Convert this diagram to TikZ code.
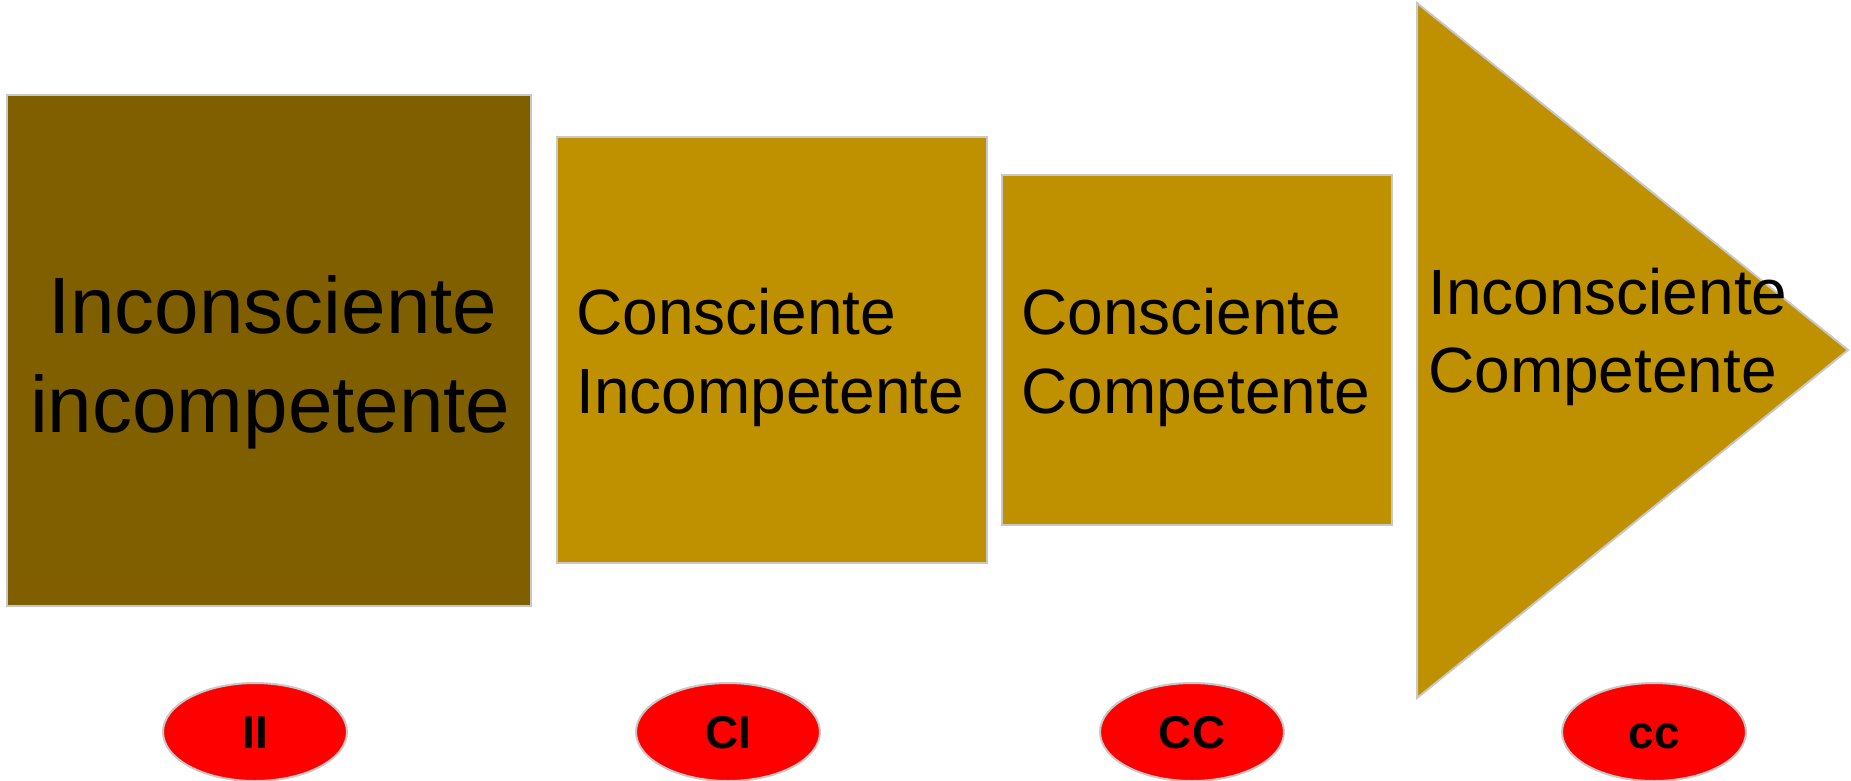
\documentclass[tikz,border=0pt]{standalone}
\usepackage{fontspec}
\setmainfont{Liberation Sans}
\usetikzlibrary{shapes.geometric}
\definecolor{darkgold}{HTML}{7F5F00}
\definecolor{gold}{HTML}{BF9000}
\definecolor{edgegray}{HTML}{C8C8C8}
\definecolor{badge}{HTML}{FF0000}
\tikzset{
  panel/.style={fill=#1, draw=edgegray, line width=2pt},
  bigtext/.style={anchor=base west, inner sep=0pt, font=\fontsize{80}{100}\selectfont},
  steptext/.style={anchor=base west, inner sep=0pt, font=\fontsize{64}{80}\selectfont},
  tag/.style={ellipse, fill=badge, draw=edgegray, line width=2pt,
    minimum width=184pt, minimum height=98pt, inner sep=0pt,
    text height=33pt, text depth=0pt, font=\fontsize{46}{55}\selectfont\bfseries}
}
\begin{document}
\begin{tikzpicture}[x=1pt,y=-1pt]
\useasboundingbox (0,0) rectangle (1851,780);
\begin{scope}
\clip (0,0) rectangle (1851,780);
% stage panels
\draw[panel=darkgold] (7,95) rectangle (531,606);
\draw[panel=gold] (557,137) rectangle (987,563);
\draw[panel=gold] (1002,175) rectangle (1392,525);
\draw[panel=gold] (1417,3) -- (1848,350) -- (1417,698) -- cycle;

% stage captions
\node[bigtext] (t1a) at (48,333) {Inconsciente};
\node[bigtext] (t1b) at (30,432) {incompetente};
\node[steptext] (t2a) at (576,334) {Consciente};
\node[steptext] (t2b) at (576,413) {Incompetente};
\node[steptext] (t3a) at (1021,334) {Consciente};
\node[steptext] (t3b) at (1021,413) {Competente};
\node[steptext] (t4a) at (1428,314) {Inconsciente};
\node[steptext] (t4b) at (1428,392) {Competente};

% stage badges
\node[tag] (ii) at (255,732) {II};
\node[tag] (ci) at (728,732) {CI};
\node[tag] (cc) at (1192,732) {CC};
\node[tag] (lc) at (1654,732) {cc};
\end{scope}
\end{tikzpicture}
\end{document}
